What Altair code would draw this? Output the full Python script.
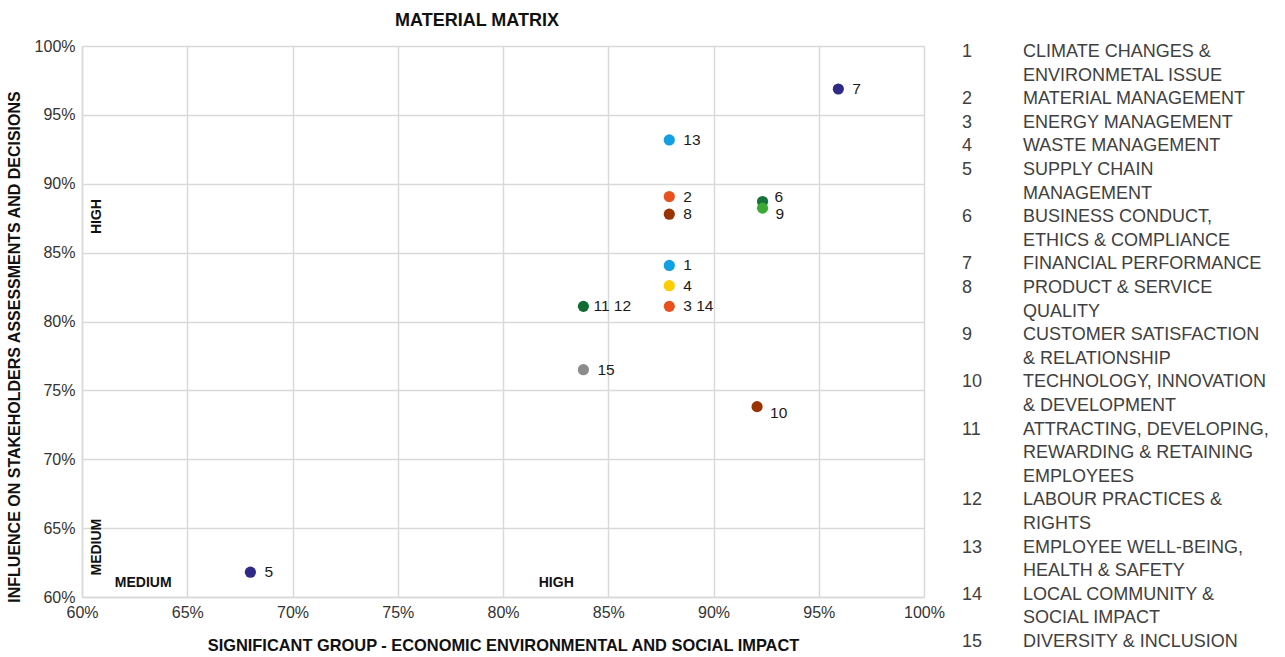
import altair as alt
import pandas as pd

# ---- data ----
point_labels = ["1", "2", "3 14", "4", "5", "6", "7", "8", "9", "10", "11  12", "13", "15"]
impact = [87.9, 87.9, 87.9, 87.9, 68.0, 92.33, 95.93, 87.9, 92.33, 92.07, 83.82, 87.9, 83.82]
influence = [84.07, 89.07, 81.10, 82.60, 61.8, 88.71, 96.88, 87.79, 88.23, 73.82, 81.10, 93.18, 76.5]
colors = ["#13a0e2", "#e8501e", "#e8501e", "#ffcc00", "#2e2a86", "#17723a", "#2e2a86",
          "#993300", "#3aaa35", "#993300", "#0f6b32", "#13a0e2", "#8c8c8c"]

vert_text = ["HIGH", "MEDIUM"]
vert_x = [60.70, 60.70]
vert_y = [87.62, 63.62]
horiz_text = ["MEDIUM", "HIGH"]
horiz_x = [62.91, 82.53]
horiz_y = [60.99, 61.01]

tick_values = [60, 65, 70, 75, 80, 85, 90, 95, 100]

legend_items = [
    ("1", ["CLIMATE CHANGES &", "ENVIRONMETAL ISSUE"]),
    ("2", ["MATERIAL MANAGEMENT"]),
    ("3", ["ENERGY MANAGEMENT"]),
    ("4", ["WASTE MANAGEMENT"]),
    ("5", ["SUPPLY CHAIN", "MANAGEMENT"]),
    ("6", ["BUSINESS CONDUCT,", "ETHICS & COMPLIANCE"]),
    ("7", ["FINANCIAL PERFORMANCE"]),
    ("8", ["PRODUCT & SERVICE", "QUALITY"]),
    ("9", ["CUSTOMER SATISFACTION", "& RELATIONSHIP"]),
    ("10", ["TECHNOLOGY, INNOVATION", "& DEVELOPMENT"]),
    ("11", ["ATTRACTING, DEVELOPING,", "REWARDING & RETAINING", "EMPLOYEES"]),
    ("12", ["LABOUR PRACTICES &", "RIGHTS"]),
    ("13", ["EMPLOYEE WELL-BEING,", "HEALTH & SAFETY"]),
    ("14", ["LOCAL COMMUNITY &", "SOCIAL IMPACT"]),
    ("15", ["DIVERSITY & INCLUSION"]),
]

# ---- tables ----
pts = pd.DataFrame({"label": point_labels, "x": impact, "y": influence, "color": colors})
vert = pd.DataFrame({"text": vert_text, "x": vert_x, "y": vert_y})
horiz = pd.DataFrame({"text": horiz_text, "x": horiz_x, "y": horiz_y})

rows = []
r = 0
for num, lines in legend_items:
    rows.append({"row": r, "col": 0, "text": num})
    for ln in lines:
        rows.append({"row": r, "col": 1, "text": ln})
        r += 1
leg = pd.DataFrame(rows)

FONT = "Liberation Sans"
W, H = 842, 551

xscale = alt.Scale(domain=[60, 100], nice=False, zero=False)
yscale = alt.Scale(domain=[60, 100], nice=False, zero=False)

xenc = alt.X("x:Q", scale=xscale,
             axis=alt.Axis(values=tick_values, labelExpr="datum.value + '%'", labelFlush=False,
                           title="SIGNIFICANT GROUP -  ECONOMIC ENVIRONMENTAL AND SOCIAL IMPACT",
                           titlePadding=17, labelPadding=7, titleFontSize=16.4))
yenc = alt.Y("y:Q", scale=yscale,
             axis=alt.Axis(values=tick_values, labelExpr="datum.value + '%'", labelFlush=False,
                           title="INFLUENCE ON STAKEHOLDERS ASSESSMENTS AND DECISIONS",
                           titlePadding=12, labelPadding=7, titleY=300.5))

points = alt.Chart(pts).mark_circle(size=125, opacity=1).encode(
    x=xenc, y=yenc, color=alt.Color("color:N", scale=None)
)

lbl_style = dict(align="left", baseline="middle", fontSize=15.5, font=FONT, color="#1a1a1a")
labels_main = alt.Chart(pts).mark_text(dx=14, **lbl_style).encode(
    x="x:Q", y="y:Q", text="label:N"
).transform_filter(~alt.FieldOneOfPredicate(field="label", oneOf=["6", "9", "10", "11  12"]))
labels_up = alt.Chart(pts).mark_text(dx=12, dy=-5, **lbl_style).encode(
    x="x:Q", y="y:Q", text="label:N"
).transform_filter(alt.FieldOneOfPredicate(field="label", oneOf=["6"]))
labels_down = alt.Chart(pts).mark_text(dx=13, dy=6, **lbl_style).encode(
    x="x:Q", y="y:Q", text="label:N"
).transform_filter(alt.FieldOneOfPredicate(field="label", oneOf=["9", "10"]))
labels_near = alt.Chart(pts).mark_text(dx=10, **lbl_style).encode(
    x="x:Q", y="y:Q", text="label:N"
).transform_filter(alt.FieldOneOfPredicate(field="label", oneOf=["11  12"]))

vert_lbl = alt.Chart(vert).mark_text(angle=270, align="center", baseline="middle",
                                     fontSize=14, fontWeight="bold", font=FONT, color="#111").encode(
    x="x:Q", y="y:Q", text="text:N")
horiz_lbl = alt.Chart(horiz).mark_text(align="center", baseline="middle",
                                       fontSize=14, fontWeight="bold", font=FONT, color="#111").encode(
    x="x:Q", y="y:Q", text="text:N")

main = alt.layer(points, labels_main, labels_up, labels_down, labels_near, vert_lbl, horiz_lbl).properties(
    width=W, height=H,
    title=alt.TitleParams("MATERIAL MATRIX", fontSize=18, fontWeight="bold", font=FONT,
                          color="#111", anchor="middle", dx=-26, offset=8),
)

LH = 23.6
LEG_H = 551
TOP = 6
legend = alt.Chart(leg).mark_text(align="left", baseline="middle", fontSize=18, font=FONT,
                                  color="#404040").encode(
    x=alt.X("col:Q", scale=alt.Scale(domain=[0, 1], range=[0, 61]), axis=None),
    y=alt.Y("row:Q", scale=alt.Scale(domain=[-TOP / LH, (LEG_H - TOP) / LH], reverse=True, nice=False, zero=False),
            axis=None),
    text="text:N",
).properties(width=300, height=LEG_H)

chart = alt.hconcat(main, legend, spacing=38, bounds="flush").properties(
    padding={"left": 6, "top": 12, "right": 0, "bottom": 0}
).configure(font=FONT).configure_view(strokeWidth=0).configure_concat(
    spacing=38
).configure_axis(
    grid=True, gridColor="#d9d9d9", gridWidth=1.5, domainColor="#d9d9d9", domainWidth=1.5,
    ticks=False, labelFontSize=16, labelColor="#333333", labelFont=FONT,
    titleFontSize=16, titleFontWeight="bold", titleColor="#111111", titleFont=FONT,
)

chart.save("out.html", embed_options={"renderer": "svg", "actions": False})
